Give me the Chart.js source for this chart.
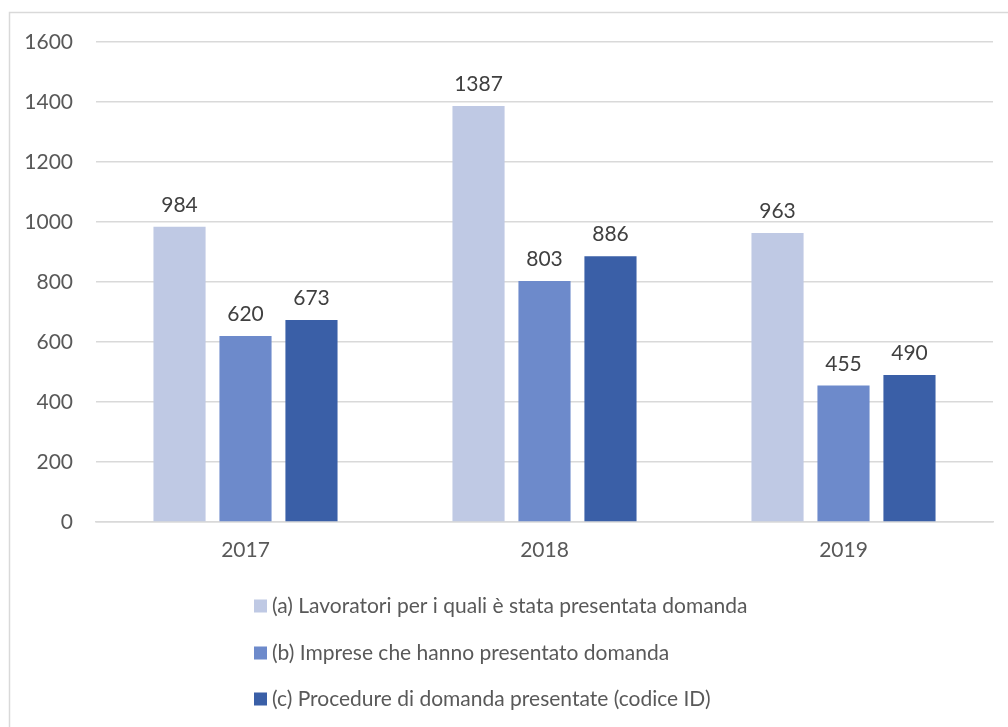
<!DOCTYPE html>
<html>
<head>
<meta charset="utf-8">
<script src="https://cdn.jsdelivr.net/npm/chart.js@4.4.1/dist/chart.umd.min.js"></script>
<style>
  html, body { margin: 0; padding: 0; background: #ffffff; }
  #wrap { position: relative; width: 1008px; height: 727px; }
</style>
</head>
<body>
<div id="wrap"><canvas id="chart" width="1008" height="727"></canvas></div>
<script>
const years = ['2017', '2018', '2019'];
const lavoratori = [984, 1387, 963];
const imprese = [620, 803, 455];
const procedure = [673, 886, 490];
const seriesLabels = [
  '(a) Lavoratori per i quali è stata presentata domanda',
  '(b) Imprese che hanno presentato domanda',
  '(c) Procedure di domanda presentate (codice ID)'
];
const seriesColors = ['#BFC9E4', '#6D8ACB', '#3A5FA7'];
const yTicks = [0, 200, 400, 600, 800, 1000, 1200, 1400, 1600];

const FONT = 'Lato, "Open Sans", sans-serif';
const TEXT = '#595959';
const FS = 21;

// frame around the chart area (only top and left edges fall inside the canvas)
const framePlugin = {
  id: 'frame',
  beforeDraw(chart) {
    const ctx = chart.ctx;
    ctx.save();
    ctx.strokeStyle = '#D9D9D9';
    ctx.lineWidth = 1.5;
    ctx.beginPath();
    ctx.moveTo(9.5, 740);
    ctx.lineTo(9.5, 12.5);
    ctx.lineTo(1020, 12.5);
    ctx.stroke();
    ctx.restore();
  }
};

// value labels above each bar
const valueLabels = {
  id: 'valueLabels',
  afterDatasetsDraw(chart) {
    const ctx = chart.ctx;
    ctx.save();
    ctx.font = FS + 'px ' + FONT;
    ctx.fillStyle = '#404040';
    ctx.textAlign = 'center';
    ctx.textBaseline = 'bottom';
    chart.data.datasets.forEach((ds, i) => {
      chart.getDatasetMeta(i).data.forEach((bar, j) => {
        ctx.fillText(String(ds.data[j]), bar.x, bar.y - 11);
      });
    });
    ctx.restore();
  }
};

// stacked legend below the axis
const stackedLegend = {
  id: 'stackedLegend',
  afterDraw(chart) {
    const ctx = chart.ctx;
    const x0 = 254, rows = [606, 653, 699], box = 13;
    ctx.save();
    ctx.font = FS + 'px ' + FONT;
    ctx.textAlign = 'left';
    ctx.textBaseline = 'middle';
    chart.data.datasets.forEach((ds, i) => {
      const y = rows[i];
      ctx.fillStyle = ds.backgroundColor;
      ctx.fillRect(x0, y - box / 2, box, box);
      ctx.fillStyle = TEXT;
      ctx.fillText(ds.label, x0 + box + 5, y);
    });
    ctx.restore();
  }
};

new Chart(document.getElementById('chart'), {
  type: 'bar',
  data: {
    labels: years,
    datasets: [
      { label: seriesLabels[0], data: lavoratori, backgroundColor: seriesColors[0] },
      { label: seriesLabels[1], data: imprese, backgroundColor: seriesColors[1] },
      { label: seriesLabels[2], data: procedure, backgroundColor: seriesColors[2] }
    ]
  },
  options: {
    responsive: false,
    animation: false,
    devicePixelRatio: 1,
    layout: { padding: { top: 42, right: 15, bottom: 145, left: 0 } },
    datasets: { bar: { categoryPercentage: 0.662, barPercentage: 0.79 } },
    plugins: { legend: { display: false }, tooltip: { enabled: false } },
    scales: {
      x: {
        grid: { display: false, drawTicks: false },
        border: { display: true, color: '#D9D9D9', width: 1.5 },
        ticks: { color: TEXT, font: { family: FONT, size: FS }, padding: 16 },
        afterFit(scale) { scale.height = 60; }
      },
      y: {
        min: 0,
        max: 1600,
        afterBuildTicks(scale) { scale.ticks = yTicks.map(v => ({ value: v })); },
        grid: { color: '#D9D9D9', lineWidth: 1.5, drawTicks: false },
        border: { display: false },
        ticks: {
          color: TEXT,
          font: { family: FONT, size: FS },
          padding: 23,
          callback: (v) => String(v)
        },
        afterFit(scale) { scale.width = 96; }
      }
    }
  },
  plugins: [framePlugin, valueLabels, stackedLegend]
});
</script>
</body>
</html>
